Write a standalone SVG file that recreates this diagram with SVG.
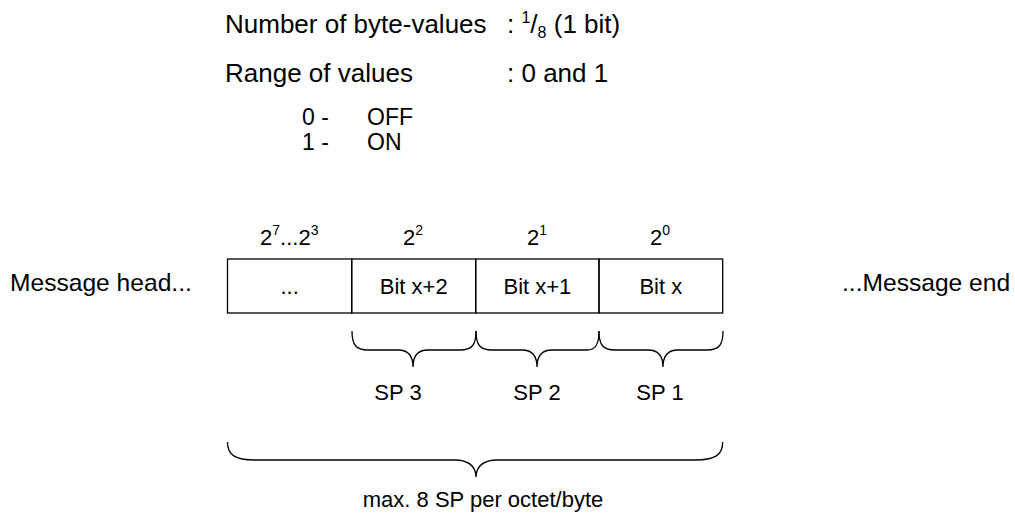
<svg xmlns="http://www.w3.org/2000/svg" width="1015" height="518" viewBox="0 0 1015 518">
<style>
text{font-family:"Liberation Sans",Arial,sans-serif;fill:#000;font-size:22px}
.t{font-size:26px}
.v{font-size:23px}
.m{font-size:24.6px}
.s{font-size:14px}
.s2{font-size:16px}
.line{fill:none;stroke:#000;stroke-width:1.3}
</style>
<rect width="1015" height="518" fill="#fff"/>
<g id="header">
<text class="t" x="225" y="33">Number of byte-values</text>
<text class="t" x="507" y="33">: <tspan class="s2" dy="-10">1</tspan><tspan dy="10">/</tspan><tspan class="s2" dy="5">8</tspan><tspan dy="-5"> (1 bit)</tspan></text>
<text class="t" x="225" y="82">Range of values</text>
<text class="t" x="507" y="82">: 0 and 1</text>
<text class="v" x="302" y="125">0 -</text>
<text class="v" x="367" y="125">OFF</text>
<text class="v" x="302" y="150">1 -</text>
<text class="v" x="367" y="150">ON</text>
</g>
<g id="weights">
<text x="260" y="245">2<tspan class="s" dy="-10">7</tspan><tspan dy="10">...2</tspan><tspan class="s" dy="-10">3</tspan></text>
<text x="403" y="245">2<tspan class="s" dy="-10">2</tspan></text>
<text x="527" y="245">2<tspan class="s" dy="-10">1</tspan></text>
<text x="650" y="245">2<tspan class="s" dy="-10">0</tspan></text>
</g>
<g id="message-head"><text class="m" x="10" y="291">Message head...</text></g>
<g id="message-end"><text class="m" x="842" y="291">...Message end</text></g>
<g id="cell-dots"><rect class="line" x="227.5" y="259" width="124.2" height="54"/><text x="289.6" y="294" text-anchor="middle">...</text></g>
<g id="cell-bit2"><rect class="line" x="351.7" y="259" width="124" height="54"/><text x="413.7" y="294" text-anchor="middle">Bit x+2</text></g>
<g id="cell-bit1"><rect class="line" x="475.7" y="259" width="123.3" height="54"/><text x="537.4" y="294" text-anchor="middle">Bit x+1</text></g>
<g id="cell-bit0"><rect class="line" x="599" y="259" width="123.7" height="54"/><text x="660.8" y="294" text-anchor="middle">Bit x</text></g>
<g id="connectors">
<path class="line" d="M352,331 C352,345 356,350 368,350 L398,350 C408,350 413,356 413,367 C413,356 418,350 428,350 L460,350 C472,350 476,345 476,331"/>
<path class="line" d="M476,331 C476,345 480,350 492,350 L522,350 C532,350 537,356 537,367 C537,356 542,350 552,350 L587,350 C595,350 599,345 599,331"/>
<path class="line" d="M599,331 C599,345 603,350 615,350 L648,350 C658,350 663,356 663,367 C663,356 668,350 678,350 L707,350 C719,350 723,345 723,331"/>
<path class="line" d="M227.5,442 C227.5,455 235,460 255,460 L455,460 C468,460 476,466 476,477 C476,466 484,460 497,460 L695,460 C715,460 722.7,455 722.7,442"/>
</g>
<g id="labels">
<text x="398" y="400" text-anchor="middle">SP 3</text>
<text x="537" y="400" text-anchor="middle">SP 2</text>
<text x="660" y="400" text-anchor="middle">SP 1</text>
<text x="483" y="507" text-anchor="middle">max. 8 SP per octet/byte</text>
</g>
</svg>
